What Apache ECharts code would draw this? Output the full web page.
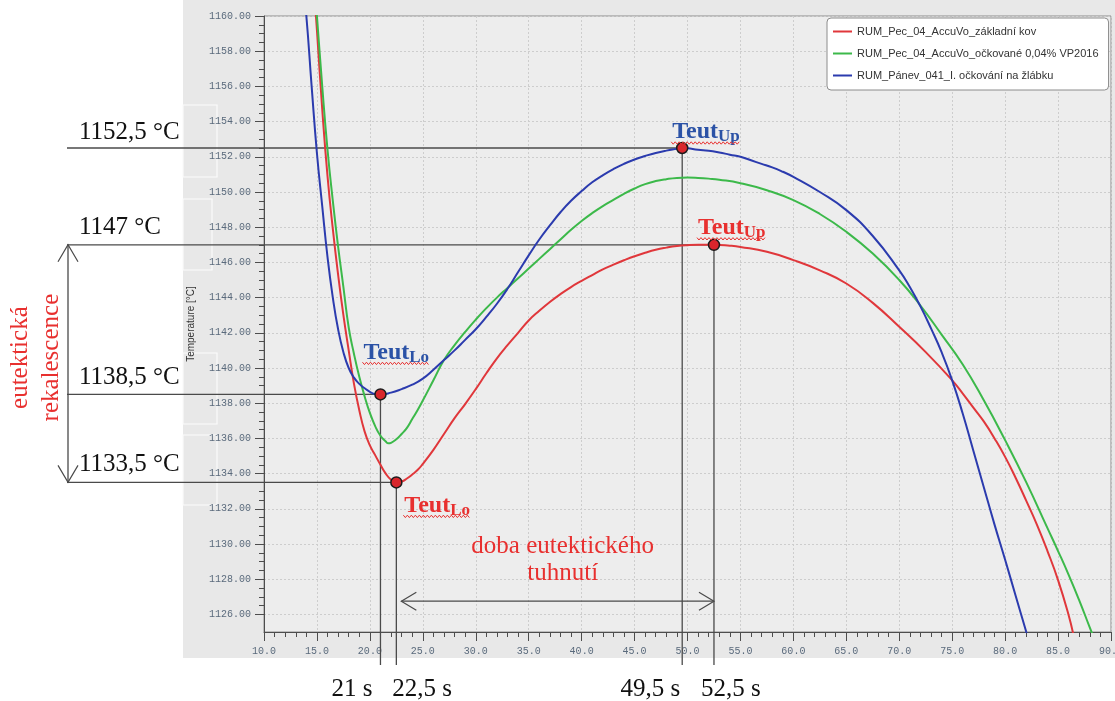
<!DOCTYPE html>
<html>
<head>
<meta charset="utf-8">
<script src="https://cdn.jsdelivr.net/npm/echarts@6/dist/echarts.min.js"></script>
<style>
  html, body { margin: 0; padding: 0; background: #ffffff; }
  #chart { width: 1115px; height: 701px; }
</style>
</head>
<body>
<div id="chart"></div>
<script>
// Cooling curves of three melts (time in s, temperature in °C)
const seriesNames = [
  'RUM_Pec_04_AccuVo_základní kov',
  'RUM_Pec_04_AccuVo_očkované 0,04% VP2016',
  'RUM_Pánev_041_I. očkování na žlábku'
];
const seriesColors = ['#e0373b', '#3cb94a', '#2b3bae'];

const redTime = [14.5, 15, 15.5, 16, 16.5, 17, 17.5, 18, 18.5, 19, 19.5, 20, 20.5, 21, 21.5, 22, 22.5, 23, 23.5, 24, 24.5, 25, 26, 27, 28, 29, 30, 31, 32, 33, 34, 35, 36, 37, 38, 39, 40, 41, 42, 43, 44, 45, 46, 47, 48, 49, 50, 51, 52.5, 54, 55, 57.5, 60, 62.5, 65, 67.5, 70, 72.5, 75, 76, 77, 78, 79, 80, 81, 82, 83, 84, 85, 86, 86.5];
const redTemp = [1163.5, 1159.2, 1154.7, 1150.9, 1147.9, 1145.3, 1143.0, 1141.0, 1139.1, 1137.6, 1136.4, 1135.6, 1135.05, 1134.5, 1134.0, 1133.65, 1133.5, 1133.55, 1133.72, 1133.95, 1134.2, 1134.55, 1135.35, 1136.25, 1137.15, 1137.95, 1138.8, 1139.7, 1140.55, 1141.3, 1142.0, 1142.7, 1143.25, 1143.75, 1144.2, 1144.6, 1144.95, 1145.28, 1145.6, 1145.87, 1146.12, 1146.35, 1146.55, 1146.72, 1146.84, 1146.93, 1146.98, 1147.0, 1147.0, 1146.95, 1146.88, 1146.6, 1146.13, 1145.55, 1144.8, 1143.7, 1142.34, 1140.9, 1139.3, 1138.55, 1137.75, 1136.95, 1136.0, 1134.95, 1133.75, 1132.45, 1131.1, 1129.6, 1127.95, 1125.95, 1124.7];

const greenTime = [14.5, 15, 15.5, 16, 16.5, 17, 17.5, 18, 18.5, 19, 19.5, 20, 20.5, 21, 21.5, 21.75, 22, 22.5, 23, 23.5, 24, 24.5, 25, 26, 27, 28, 29, 30, 31, 32, 33, 34, 35, 36, 37, 38, 39, 40, 41, 42, 43, 44, 45, 46, 47, 48, 49, 50, 51, 52, 53, 55, 57.5, 60, 62.5, 65, 67.5, 70, 72, 74, 76, 78, 80, 82, 84, 85, 86, 87, 88, 88.5];
const greenTemp = [1163.8, 1160.0, 1156.0, 1152.4, 1149.5, 1146.9, 1144.6, 1142.3, 1140.8, 1139.5, 1138.4, 1137.45, 1136.7, 1136.15, 1135.82, 1135.72, 1135.75, 1135.95, 1136.25, 1136.6, 1137.1, 1137.6, 1138.15, 1139.3, 1140.45, 1141.3, 1142.05, 1142.75, 1143.4, 1144.0, 1144.55, 1145.1, 1145.65, 1146.2, 1146.75, 1147.3, 1147.85, 1148.35, 1148.8, 1149.2, 1149.55, 1149.9, 1150.2, 1150.45, 1150.62, 1150.73, 1150.8, 1150.82, 1150.8, 1150.76, 1150.7, 1150.5, 1150.1, 1149.54, 1148.75, 1147.74, 1146.5, 1145.0, 1143.55, 1141.9, 1140.2, 1138.15, 1135.9, 1133.5, 1130.9, 1129.6, 1128.25, 1126.8, 1125.25, 1124.5];

const blueTime = [13.5, 14, 14.5, 15, 15.5, 16, 16.5, 17, 17.5, 18, 18.5, 19, 19.5, 20, 20.5, 21, 22, 23, 24, 25, 26, 27, 28, 29, 30, 31, 32, 33, 34, 35, 36, 37, 38, 39, 40, 41, 42, 43, 44, 45, 46, 47, 48, 49, 49.5, 50, 51, 52, 53, 54, 55, 56, 57, 58, 59, 60, 62.5, 65, 67.5, 70, 71, 72, 73, 74, 75, 76, 77, 78, 79, 80, 81, 82, 82.5];
const blueTemp = [1163.0, 1160.0, 1156.0, 1152.2, 1149.2, 1146.3, 1144.0, 1142.2, 1140.9, 1140.0, 1139.45, 1139.1, 1138.85, 1138.65, 1138.52, 1138.5, 1138.6, 1138.8, 1139.05, 1139.4, 1139.9, 1140.45, 1141.0, 1141.6, 1142.2, 1142.9, 1143.65, 1144.5, 1145.45, 1146.4, 1147.3, 1148.1, 1148.85, 1149.5, 1150.05, 1150.55, 1150.95, 1151.3, 1151.6, 1151.85, 1152.05, 1152.22, 1152.35, 1152.45, 1152.5, 1152.48, 1152.4, 1152.35, 1152.25, 1152.12, 1152.0, 1151.8, 1151.6, 1151.4, 1151.15, 1150.86, 1150.0, 1148.97, 1147.5, 1145.55, 1144.6, 1143.5, 1142.25, 1140.9, 1139.3, 1137.4, 1135.3, 1133.2, 1131.1, 1129.1, 1127.05, 1125.0, 1124.0];

// Eutectic points: lower / upper eutectic temperature of the blue and red curves
const markTimes = [21, 22.5, 49.5, 52.5];
const markTemps = [1138.5, 1133.5, 1152.5, 1147];
const markSub = ['Lo', 'Lo', 'Up', 'Up'];
const markSeries = [2, 0, 2, 0];

const xTickStart = 10, xTickEnd = 90, xTickStep = 5;
const yTickStart = 1126, yTickEnd = 1160, yTickStep = 2;
const yFloor = 1125;

const textRed = '#e8302f';
const textBlue = '#2b52a6';
const guide = '#4a4a4a';

const zip = (a, b) => a.map((v, i) => [v, b[i]]);
const commaNum = v => String(v).replace('.', ',');

const chart = echarts.init(document.getElementById('chart'), null, { renderer: 'canvas' });

const tickLabelStyle = { fontFamily: 'Liberation Mono', fontSize: 10, color: '#5a6a7c' };
const gridLineStyle = { color: '#cdcdcd', type: [2, 2], width: 1 };
const axisColor = '#4d4d4d';
const plotTop = 16, plotBottom = 69, plotLeft = 264, plotRight = 4;
const pxPerDegree = (701 - plotTop - plotBottom) / (yTickEnd - yFloor);

const panelGraphics = [
  { type: 'rect', z: -5, silent: true, shape: { x: 183, y: 0, width: 932, height: 658 }, style: { fill: '#e8e8e8' } },
  ...[[183, 105, 34, 72], [183, 199, 29, 71], [183, 353, 34, 71], [183, 435, 34, 70]].map(b => ({
    type: 'rect', z: -4, silent: true,
    shape: { x: b[0], y: b[1], width: b[2], height: b[3] },
    style: { fill: null, stroke: '#fbfbfb', lineWidth: 1.2 }
  }))
];

const option = {
  animation: false,
  backgroundColor: '#ffffff',
  grid: [
    { left: plotLeft, right: plotRight, top: plotTop, bottom: plotBottom, outerBoundsMode: 'none', containLabel: false,
      show: true, backgroundColor: '#ededed', borderColor: '#8d8d8d', borderWidth: 1 },
    { left: plotLeft, right: plotRight, top: plotTop, bottom: plotBottom + pxPerDegree * (yTickStart - yFloor),
      outerBoundsMode: 'none', containLabel: false, show: false }
  ],
  xAxis: [
    {
      gridIndex: 0, type: 'value', min: xTickStart, max: xTickEnd, interval: xTickStep,
      axisLine: { lineStyle: { color: axisColor } },
      axisTick: { inside: false, length: 9, lineStyle: { color: axisColor } },
      minorTick: { show: true, splitNumber: 5, length: 5, lineStyle: { color: axisColor } },
      axisLabel: Object.assign({ margin: 14, formatter: v => v.toFixed(1), hideOverlap: false }, tickLabelStyle),
      splitLine: { show: true, lineStyle: gridLineStyle }
    },
    { gridIndex: 1, type: 'value', min: xTickStart, max: xTickEnd, show: false }
  ],
  yAxis: [
    {
      gridIndex: 0, type: 'value', min: yFloor, max: yTickEnd,
      axisLine: { show: true, lineStyle: { color: axisColor } },
      axisTick: { show: false }, axisLabel: { show: false }, splitLine: { show: false },
      name: 'Temperature [°C]', nameLocation: 'middle', nameRotate: 90, nameGap: 68,
      nameTextStyle: { fontFamily: 'Liberation Sans', fontSize: 10, color: '#333333' }
    },
    {
      gridIndex: 1, type: 'value', min: yTickStart, max: yTickEnd, interval: yTickStep,
      axisLine: { show: false },
      axisTick: { show: true, inside: false, length: 9, lineStyle: { color: axisColor } },
      minorTick: { show: true, splitNumber: 4, length: 5, lineStyle: { color: axisColor } },
      axisLabel: Object.assign({ margin: 13, formatter: v => v.toFixed(2) }, tickLabelStyle),
      splitLine: { show: true, lineStyle: gridLineStyle }
    }
  ],
  legend: {
    orient: 'vertical', left: 827, top: 18,
    data: seriesNames, icon: 'rect',
    backgroundColor: '#ffffff', borderColor: '#8c8c8c', borderWidth: 1, borderRadius: 4,
    padding: [7, 10, 8, 6], itemGap: 9, itemWidth: 19, itemHeight: 2,
    textStyle: { fontFamily: 'Liberation Sans', fontSize: 11, color: '#333333', lineHeight: 13 }
  },
  series: [
    [redTime, redTemp], [greenTime, greenTemp], [blueTime, blueTemp]
  ].map((s, i) => ({
    type: 'line', name: seriesNames[i], xAxisIndex: 0, yAxisIndex: 0,
    data: zip(s[0], s[1]), symbol: 'none', smooth: 0.5, clip: true, z: 2,
    lineStyle: { width: 2, color: seriesColors[i] }, itemStyle: { color: seriesColors[i] }
  })).concat([{
    type: 'scatter', name: 'Teut', xAxisIndex: 0, yAxisIndex: 0, z: 5, silent: true,
    data: zip(markTimes, markTemps), symbolSize: 11,
    itemStyle: { color: '#d9262c', borderColor: '#1b1b1b', borderWidth: 1.5, opacity: 1 }
  }]),
  graphic: panelGraphics
};

chart.setOption(option);

// Annotations placed through the axis scales
const toPx = (t, T) => chart.convertToPixel({ gridIndex: 0 }, [t, T]);
const ctx = document.createElement('canvas').getContext('2d');
const measure = (txt, font) => { ctx.font = font; return ctx.measureText(txt).width; };

const serif = '"Liberation Serif", "Times New Roman", serif';
const g = [];
const leftX = 67;
const guideBottom = 665;

function line(x1, y1, x2, y2) {
  g.push({ type: 'line', z: 1, silent: true, shape: { x1, y1, x2, y2 }, style: { stroke: guide, lineWidth: 1.3 } });
}
function poly(points) {
  g.push({ type: 'polyline', z: 1, silent: true, shape: { points }, style: { stroke: guide, lineWidth: 1.2, fill: null } });
}
function text(x, y, str, font, fill, align) {
  g.push({
    type: 'text', z: 10, silent: true, x, y,
    style: { text: str, font, fill, align: align || 'left', verticalAlign: 'middle' }
  });
}

const pts = markTimes.map((t, i) => toPx(t, markTemps[i]));
const timeAlign = ['right', 'left', 'right', 'left'];
const timeShift = [-8, -4, -2, -13];
const tempShift = [-17, -18, -16, -17];
const teutOffset = [[-17, -34], [8, 31], [-10, -8], [-16, -9]];

pts.forEach((p, i) => {
  // horizontal guide from the temperature label to the point
  line(leftX, p[1], p[0], p[1]);
  // vertical guide from the point down to the time label
  line(p[0], p[1], p[0], guideBottom);
  text(79, p[1] + tempShift[i], commaNum(markTemps[i]) + ' °C', '25px ' + serif, '#111111', 'left');
  text(p[0] + timeShift[i], 689, commaNum(markTimes[i]) + ' s', '25px ' + serif, '#111111', timeAlign[i]);

  // Teut label with subscript and wavy underline
  const col = markSeries[i] === 2 ? textBlue : textRed;
  const mainFont = 'bold 24px ' + serif;
  const subFont = 'bold 17px ' + serif;
  const x0 = p[0] + teutOffset[i][0];
  const base = p[1] + teutOffset[i][1];
  const w1 = measure('Teut', mainFont);
  const w2 = measure(markSub[i], subFont);
  text(x0, base - 8, 'Teut', mainFont, col, 'left');
  text(x0 + w1, base - 3, markSub[i], subFont, col, 'left');
  const wave = [];
  for (let x = x0 - 1, k = 0; x <= x0 + w1 + w2 + 1; x += 2, k++) {
    wave.push([x, base + 3 + (k % 2 ? 1.2 : -1.2)]);
  }
  g.push({ type: 'polyline', z: 10, silent: true, shape: { points: wave }, style: { stroke: '#e8302f', lineWidth: 1, fill: null } });
});

// Recalescence arrow between upper and lower eutectic temperature of the red curve
const topY = pts[3][1], botY = pts[1][1];
line(68, topY, 68, botY);
poly([[58, topY + 17], [68, topY], [78, topY + 17]]);
poly([[58, botY - 17], [68, botY], [78, botY - 17]]);
g.push({
  type: 'text', z: 10, silent: true, x: 36, y: (topY + botY) / 2 - 6, rotation: Math.PI / 2,
  style: { text: 'eutektická\nrekalescence', font: '25px ' + serif, fill: textRed, align: 'center', verticalAlign: 'middle', lineHeight: 31 }
});

// Eutectic solidification time arrow
const arrowY = toPx(30, 1126.75)[1];
const ax1 = pts[1][0] + 5, ax2 = pts[3][0];
line(ax1, arrowY, ax2, arrowY);
poly([[ax1 + 15, arrowY - 9], [ax1, arrowY], [ax1 + 15, arrowY + 9]]);
poly([[ax2 - 15, arrowY - 9], [ax2, arrowY], [ax2 - 15, arrowY + 9]]);
g.push({
  type: 'text', z: 10, silent: true, x: (ax1 + ax2) / 2 + 5, y: 560,
  style: { text: 'doba eutektického\ntuhnutí', font: '25px ' + serif, fill: textRed, align: 'center', verticalAlign: 'middle', lineHeight: 27 }
});

chart.setOption({ graphic: panelGraphics.concat(g) });
</script>
</body>
</html>
